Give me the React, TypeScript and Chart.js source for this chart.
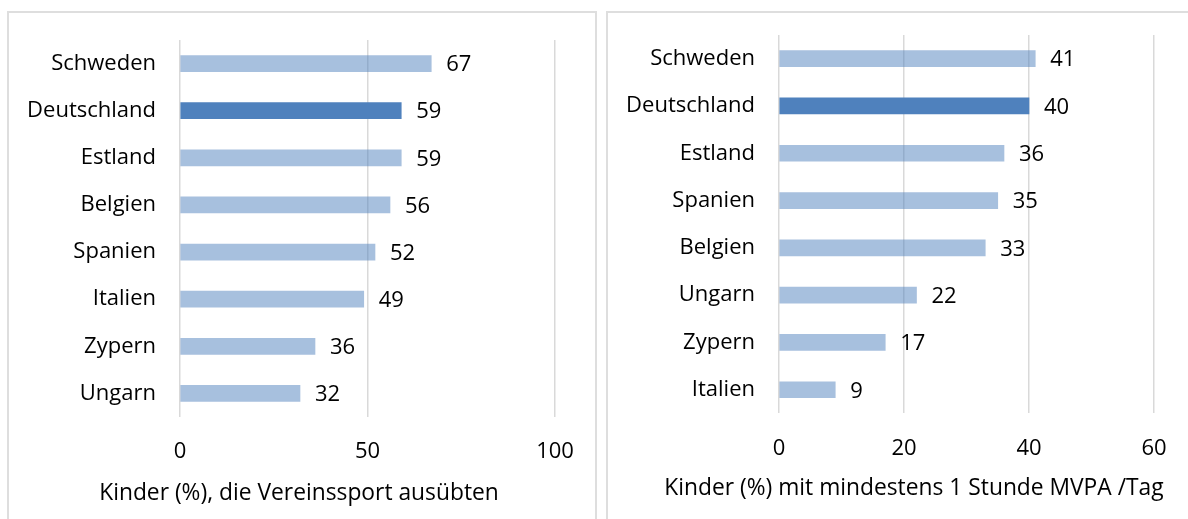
import React, { useEffect, useRef } from "react";
import { Chart, registerables } from "chart.js";

Chart.register(...registerables);

// Left chart: club sport
const leftCategories = ["Schweden", "Deutschland", "Estland", "Belgien", "Spanien", "Italien", "Zypern", "Ungarn"];
const leftValues = [67, 59, 59, 56, 52, 49, 36, 32];
const leftTitle = "Kinder (%), die Vereinssport ausübten";
const leftMax = 100;
const leftStep = 50;

// Right chart: MVPA
const rightCategories = ["Schweden", "Deutschland", "Estland", "Spanien", "Belgien", "Ungarn", "Zypern", "Italien"];
const rightValues = [41, 40, 36, 35, 33, 22, 17, 9];
const rightTitle = "Kinder (%) mit mindestens 1 Stunde MVPA /Tag";
const rightMax = 60;
const rightStep = 20;

const highlight = "Deutschland";

const FONT = '"Open Sans", sans-serif';
const DARK = "#4F81BD";
const LIGHT = "rgba(79,129,189,0.5)";
const GRID = "#D9D9D9";

const CW = 588;
const CH = 506;

const valueLabels = {
  id: "valueLabels",
  afterDatasetsDraw(chart: any) {
    const ctx = chart.ctx;
    const meta = chart.getDatasetMeta(0);
    const data = chart.data.datasets[0].data;
    ctx.save();
    ctx.font = `22px ${FONT}`;
    ctx.fillStyle = "#000";
    ctx.textBaseline = "middle";
    ctx.textAlign = "left";
    meta.data.forEach((bar: any, i: number) => {
      ctx.fillText(String(data[i]), bar.x + 15, bar.y + 1.5);
    });
    ctx.restore();
  },
};

const axisTitle = {
  id: "axisTitle",
  afterDraw(chart: any, _args: any, opts: any) {
    const ctx = chart.ctx;
    ctx.save();
    ctx.font = `22.8px ${FONT}`;
    ctx.fillStyle = "#000";
    ctx.textBaseline = "middle";
    ctx.textAlign = "center";
    ctx.fillText(opts.text, opts.x, opts.y);
    ctx.restore();
  },
};

type PanelProps = {
  categories: string[];
  values: number[];
  title: string;
  titleX: number;
  titleY: number;
  max: number;
  step: number;
  padTop: number;
  xHeight: number;
  tickPad: number;
};

function Panel(p: PanelProps) {
  const ref = useRef<HTMLCanvasElement | null>(null);
  useEffect(() => {
    if (!ref.current) return;
    const colors = p.categories.map((c) => (c === highlight ? DARK : LIGHT));
    const chart = new Chart(ref.current, {
      type: "bar",
      data: {
        labels: p.categories,
        datasets: [
          {
            data: p.values,
            backgroundColor: colors,
            borderWidth: 0,
            barThickness: 16,
          },
        ],
      },
      options: {
        indexAxis: "y",
        animation: false,
        responsive: false,
        devicePixelRatio: 1,
        events: [],
        layout: { padding: { top: p.padTop, right: CW - 546, bottom: 0, left: 0 } },
        plugins: {
          legend: { display: false },
          tooltip: { enabled: false },
          axisTitle: { text: p.title, x: p.titleX, y: p.titleY },
        },
        scales: {
          x: {
            min: 0,
            max: p.max,
            ticks: {
              stepSize: p.step,
              padding: p.tickPad,
              color: "#000",
              font: { family: FONT, size: 22 },
              maxRotation: 0,
            },
            grid: { color: GRID, lineWidth: 1.5, drawTicks: false },
            border: { display: false },
            afterFit: (scale: any) => {
              scale.height = p.xHeight;
            },
          },
          y: {
            ticks: {
              padding: 0,
              color: "#000",
              font: { family: FONT, size: 22 },
            },
            grid: { display: false, drawTicks: true, tickLength: 24 },
            border: { display: false },
            afterFit: (scale: any) => {
              scale.width = 171;
              scale.paddingTop = 0;
              scale.paddingBottom = 0;
            },
          },
        },
      },
      plugins: [valueLabels, axisTitle],
    } as any);
    return () => chart.destroy();
  }, []);
  return <canvas ref={ref} width={CW} height={CH} style={{ width: CW, height: CH, display: "block" }} />;
}

export default function App() {
  return (
    <div style={{ position: "fixed", left: 0, top: 0, width: 1188, height: 519, overflow: "hidden", background: "#fff" }}>
      <div
        style={{
          position: "absolute",
          left: 7,
          top: 11,
          width: 590,
          height: 560,
          boxSizing: "border-box",
          border: "2px solid #DEDEDE",
        }}
      >
        <div style={{ position: "absolute", left: 0, top: 0 }}>
          <Panel
            categories={leftCategories}
            values={leftValues}
            title={leftTitle}
            titleX={290}
            titleY={480.5}
            max={leftMax}
            step={leftStep}
            padTop={27}
            xHeight={102}
            tickPad={22}
          />
        </div>
      </div>
      <div
        style={{
          position: "absolute",
          left: 606,
          top: 11,
          width: 620,
          height: 560,
          boxSizing: "border-box",
          border: "2px solid #DEDEDE",
        }}
      >
        <div style={{ position: "absolute", left: 0, top: 0 }}>
          <Panel
            categories={rightCategories}
            values={rightValues}
            title={rightTitle}
            titleX={306}
            titleY={476}
            max={rightMax}
            step={rightStep}
            padTop={22}
            xHeight={105.6}
            tickPad={22}
          />
        </div>
      </div>
    </div>
  );
}
